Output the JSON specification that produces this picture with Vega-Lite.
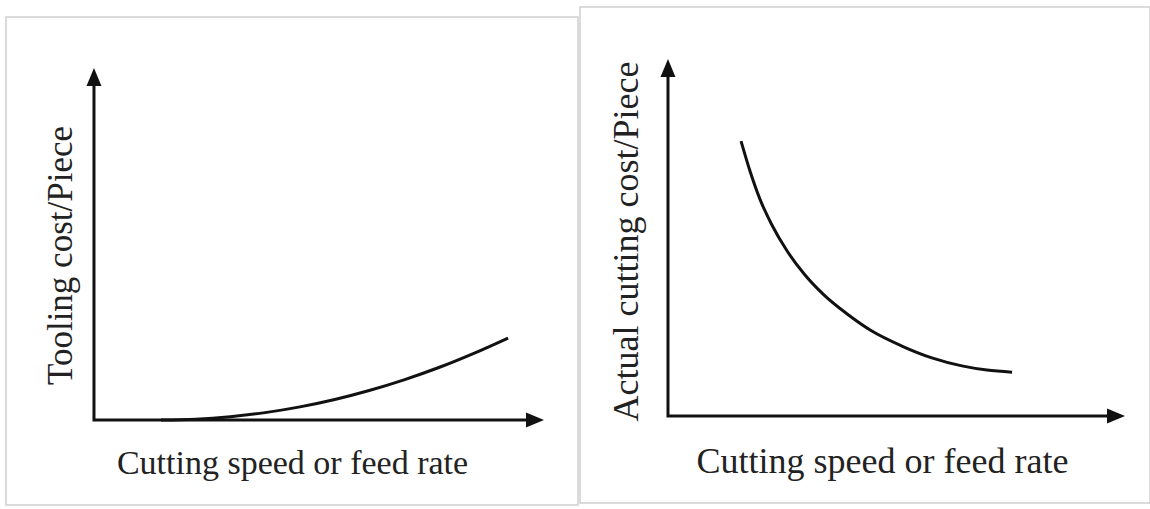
{
  "$schema": "https://vega.github.io/schema/vega-lite/v6.json",
  "padding": {"left": 5, "top": 6, "right": 0, "bottom": 0},
  "spacing": 0,
  "background": "white",
  "config": {
    "view": {"stroke": "#cfcfcf", "strokeWidth": 1.5},
    "axis": {
      "domain": false, "ticks": false, "labels": false, "grid": false,
      "titleFont": "Liberation Serif", "titleFontWeight": "normal", "titleColor": "#222222",
      "titleAlign": "center", "titleBaseline": "alphabetic"
    }
  },
  "datasets": {
    "left": [
      {"part": "axes", "i": 0, "x": 0, "y": 10},
      {"part": "axes", "i": 1, "x": 0, "y": 0},
      {"part": "axes", "i": 2, "x": 10, "y": 0},
      {"part": "arrow-up", "i": 0, "x": 0, "y": 10},
      {"part": "arrow-right", "i": 0, "x": 10, "y": 0},
      {"part": "curve", "i": 0, "x": 1.52, "y": 0},
      {"part": "curve", "i": 1, "x": 2.31, "y": 0.024},
      {"part": "curve", "i": 2, "x": 3.09, "y": 0.096},
      {"part": "curve", "i": 3, "x": 3.88, "y": 0.215},
      {"part": "curve", "i": 4, "x": 4.67, "y": 0.382},
      {"part": "curve", "i": 5, "x": 5.46, "y": 0.598},
      {"part": "curve", "i": 6, "x": 6.24, "y": 0.86},
      {"part": "curve", "i": 7, "x": 7.03, "y": 1.171},
      {"part": "curve", "i": 8, "x": 7.82, "y": 1.53},
      {"part": "curve", "i": 9, "x": 8.6, "y": 1.936},
      {"part": "curve", "i": 10, "x": 9.39, "y": 2.39}
    ],
    "right": [
      {"part": "axes", "i": 0, "x": 0, "y": 10},
      {"part": "axes", "i": 1, "x": 0, "y": 0},
      {"part": "axes", "i": 2, "x": 10, "y": 0},
      {"part": "arrow-up", "i": 0, "x": 0, "y": 10},
      {"part": "arrow-right", "i": 0, "x": 10, "y": 0},
      {"part": "curve", "i": 0, "x": 1.63, "y": 7.9},
      {"part": "curve", "i": 1, "x": 1.83, "y": 7.04},
      {"part": "curve", "i": 2, "x": 2.05, "y": 6.24},
      {"part": "curve", "i": 3, "x": 2.32, "y": 5.49},
      {"part": "curve", "i": 4, "x": 2.66, "y": 4.74},
      {"part": "curve", "i": 5, "x": 3.04, "y": 4.08},
      {"part": "curve", "i": 6, "x": 3.48, "y": 3.48},
      {"part": "curve", "i": 7, "x": 4.0, "y": 2.93},
      {"part": "curve", "i": 8, "x": 4.55, "y": 2.44},
      {"part": "curve", "i": 9, "x": 5.22, "y": 2.01},
      {"part": "curve", "i": 10, "x": 5.89, "y": 1.67},
      {"part": "curve", "i": 11, "x": 6.56, "y": 1.44},
      {"part": "curve", "i": 12, "x": 7.12, "y": 1.32},
      {"part": "curve", "i": 13, "x": 7.68, "y": 1.26}
    ]
  },
  "hconcat": [
    {
      "spacing": 0,
      "vconcat": [
        {
          "width": 572,
          "height": 9,
          "view": {"stroke": null},
          "data": {"values": [{"a": 0}]},
          "mark": {"type": "point", "opacity": 0},
          "encoding": {}
        },
        {
          "width": 572,
          "height": 488,
          "data": {"name": "left"},
          "encoding": {
            "x": {
              "field": "x", "type": "quantitative",
              "scale": {"domain": [-1.995, 10.975], "nice": false, "zero": false},
              "axis": {"title": "Cutting speed or feed rate", "titleX": 286, "titleY": -32, "titleFontSize": 34}
            },
            "y": {
              "field": "y", "type": "quantitative",
              "scale": {"domain": [-2.478, 11.749], "nice": false, "zero": false},
              "axis": {"title": "Tooling cost/Piece", "titleX": 65, "titleY": 238, "titleAngle": -90, "titleFontSize": 35}
            }
          },
          "layer": [
            {
              "transform": [{"filter": "datum.part === 'axes'"}],
              "mark": {"type": "line", "stroke": "#111111", "strokeWidth": 3, "strokeJoin": "miter", "strokeCap": "butt"},
              "encoding": {"order": {"field": "i", "type": "quantitative"}}
            },
            {
              "transform": [{"filter": "datum.part === 'curve'"}],
              "mark": {"type": "line", "stroke": "#111111", "strokeWidth": 3, "interpolate": "monotone"},
              "encoding": {"order": {"field": "i", "type": "quantitative"}}
            },
            {
              "transform": [{"filter": "datum.part === 'arrow-up'"}],
              "mark": {"type": "point", "shape": "M0,-1L0.83,1L-0.83,1Z", "size": 324, "filled": true, "color": "#111111", "opacity": 1}
            },
            {
              "transform": [{"filter": "datum.part === 'arrow-right'"}],
              "mark": {"type": "point", "shape": "M1,0L-1,0.83L-1,-0.83Z", "size": 324, "filled": true, "color": "#111111", "opacity": 1}
            }
          ]
        }
      ]
    },
    {
      "width": 570,
      "height": 496,
      "data": {"name": "right"},
      "encoding": {
        "x": {
          "field": "x", "type": "quantitative",
          "scale": {"domain": [-1.964, 10.759], "nice": false, "zero": false},
          "axis": {"title": "Cutting speed or feed rate", "titleX": 302, "titleY": -31, "titleFontSize": 36}
        },
        "y": {
          "field": "y", "type": "quantitative",
          "scale": {"domain": [-2.5, 11.753], "nice": false, "zero": false},
          "axis": {"title": "Actual cutting cost/Piece", "titleX": 57, "titleY": 234, "titleAngle": -90, "titleFontSize": 36}
        }
      },
      "layer": [
        {
          "transform": [{"filter": "datum.part === 'axes'"}],
          "mark": {"type": "line", "stroke": "#111111", "strokeWidth": 3, "strokeJoin": "miter", "strokeCap": "butt"},
          "encoding": {"order": {"field": "i", "type": "quantitative"}}
        },
        {
          "transform": [{"filter": "datum.part === 'curve'"}],
          "mark": {"type": "line", "stroke": "#111111", "strokeWidth": 3, "interpolate": "monotone"},
          "encoding": {"order": {"field": "i", "type": "quantitative"}}
        },
        {
          "transform": [{"filter": "datum.part === 'arrow-up'"}],
          "mark": {"type": "point", "shape": "M0,-1L0.83,1L-0.83,1Z", "size": 324, "filled": true, "color": "#111111", "opacity": 1}
        },
        {
          "transform": [{"filter": "datum.part === 'arrow-right'"}],
          "mark": {"type": "point", "shape": "M1,0L-1,0.83L-1,-0.83Z", "size": 324, "filled": true, "color": "#111111", "opacity": 1}
        }
      ]
    }
  ]
}
